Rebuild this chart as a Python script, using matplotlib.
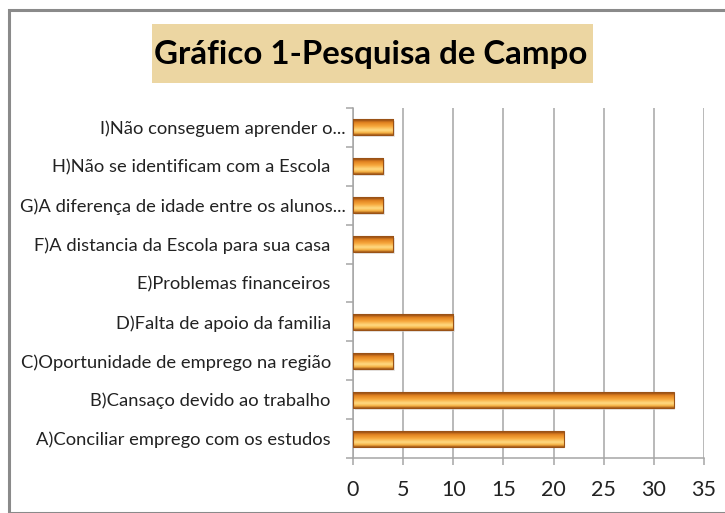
import numpy as np
import matplotlib.pyplot as plt
import matplotlib.transforms as mtransforms
from matplotlib.patches import Rectangle
from matplotlib.colors import LinearSegmentedColormap

plt.rcParams['font.family'] = ['Lato', 'DejaVu Sans']

# === dados (de baixo para cima) ===
categorias = [
    'A)Conciliar emprego com os estudos',
    'B)Cansaço devido ao trabalho',
    'C)Oportunidade de emprego na região',
    'D)Falta de apoio da familia',
    'E)Problemas financeiros',
    'F)A distancia da Escola para sua casa',
    'G)A diferença de idade entre os alunos...',
    'H)Não se identificam com a Escola',
    'I)Não conseguem aprender o...',
]
valores = [21, 32, 4, 10, 0, 4, 3, 3, 4]
xticks = [0, 5, 10, 15, 20, 25, 30, 35]
titulo = 'Gráfico 1-Pesquisa de Campo'

W, H = 725, 513
fig = plt.figure(figsize=(W / 100, H / 100), dpi=100)
fig.patch.set_facecolor('white')

# moldura do gráfico
fig.add_artist(Rectangle((9 / W, 0), 1.2, (H - 10) / H, transform=fig.transFigure,
                         fill=False, edgecolor='#8a8a8a', linewidth=2.2))

# caixa do título
fig.add_artist(Rectangle((152 / W, 1 - 83 / H), (593 - 152) / W, 59 / H,
                         transform=fig.transFigure, facecolor='#ecd6a2', edgecolor='none'))
fig.text(371 / W, 1 - 55 / H, titulo, ha='center', va='center',
         fontsize=23.8, fontweight='bold', color='black')

ax = fig.add_axes([353 / W, 1 - 458 / H, (704 - 353) / W, (458 - 108) / H])

y = np.arange(len(categorias))
altura = 0.41

# gradiente das barras
cmap = LinearSegmentedColormap.from_list('laranja', [
    (0.0, '#9c5214'), (0.12, '#f6b040'), (0.3, '#ffdc85'),
    (0.55, '#f7a83c'), (0.8, '#e0801f'), (1.0, '#7e3e10')])
grad = np.linspace(0, 1, 64).reshape(-1, 1)

for yi, v in zip(y, valores):
    if v <= 0:
        continue
    ax.imshow(grad, cmap=cmap, aspect='auto', interpolation='bicubic',
              extent=[0, v, yi + altura / 2, yi - altura / 2], zorder=3)
    ax.add_patch(Rectangle((0, yi - altura / 2), v, altura, fill=False,
                           edgecolor='#9a5216', linewidth=0.8, zorder=4))
    # sombra
    ax.add_patch(Rectangle((0.15, yi - altura / 2 - 0.05), v, altura, facecolor='#d8d8d8',
                           edgecolor='none', alpha=0.6, zorder=2))

ax.set_xlim(0, 35)
ax.set_ylim(-0.5, len(categorias) - 0.5)
ax.set_xticks(xticks)
ax.set_xticklabels([str(t) for t in xticks], fontsize=15.5, color='#222222')
ax.set_yticks(y)
ax.set_yticklabels(categorias, fontsize=13.2, color='#222222')
ax.set_yticks(np.arange(-0.5, len(categorias), 1), minor=True)

ax.grid(axis='x', color='#a6a6a6', linewidth=1.1, zorder=0)
ax.set_axisbelow(True)
for s in ['top', 'right']:
    ax.spines[s].set_visible(False)
ax.spines['left'].set_color('#a6a6a6')
ax.spines['bottom'].set_color('#a6a6a6')
ax.spines['left'].set_linewidth(1.1)
ax.spines['bottom'].set_linewidth(1.1)

ax.tick_params(axis='y', which='major', length=0, pad=16)
ax.tick_params(axis='y', which='minor', length=5, color='#a6a6a6', width=1.1)
ax.tick_params(axis='x', which='major', length=5, color='#a6a6a6', width=1.1, pad=11)

# rótulos truncados ficam mais perto do eixo
for lab in ax.get_yticklabels():
    if lab.get_text().endswith('...'):
        off = mtransforms.ScaledTranslation(15 / 100, 0, fig.dpi_scale_trans)
        lab.set_transform(lab.get_transform() + off)

fig.savefig('out.png', dpi=100)
